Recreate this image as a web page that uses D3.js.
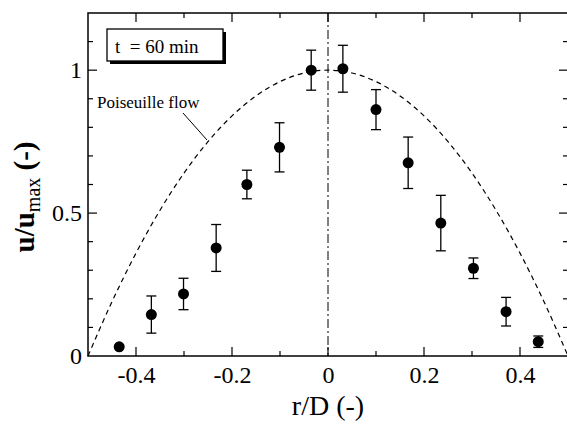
<!DOCTYPE html>
<html>
<head>
<meta charset="utf-8">
<script src="https://cdn.jsdelivr.net/npm/d3@7"></script>
<style>
  body { margin: 0; background: #fff; }
  svg { display: block; }
  svg text { font-family: "Liberation Serif", "Times New Roman", serif !important; fill: #000; }
</style>
</head>
<body>
<svg id="chart" width="567" height="429"></svg>
<script>
// measured points: radial position, normalised velocity, error bar half-height
const rD = [-0.435, -0.368, -0.301, -0.233, -0.169, -0.101, -0.035, 0.031, 0.100, 0.167, 0.235, 0.303, 0.371, 0.438];
const uU = [0.032, 0.145, 0.217, 0.378, 0.600, 0.730, 1.000, 1.005, 0.862, 0.676, 0.465, 0.307, 0.155, 0.050];
const err = [0.008, 0.065, 0.055, 0.082, 0.050, 0.086, 0.070, 0.082, 0.070, 0.090, 0.097, 0.036, 0.050, 0.020];

// poiseuille profile
const poisR = [-0.5, -0.45, -0.4, -0.35, -0.3, -0.25, -0.2, -0.15, -0.1, -0.05, 0, 0.05, 0.1, 0.15, 0.2, 0.25, 0.3, 0.35, 0.4, 0.45, 0.5];
const poisU = [0, 0.19, 0.36, 0.51, 0.64, 0.75, 0.84, 0.91, 0.96, 0.99, 1, 0.99, 0.96, 0.91, 0.84, 0.75, 0.64, 0.51, 0.36, 0.19, 0];

const xTicks = [-0.4, -0.2, 0, 0.2, 0.4];
const yTicks = [0, 0.5, 1];

const svg = d3.select('#chart');
const mLeft = 88, mRight = 568, mTop = 13, mBottom = 356;

const x = d3.scaleLinear().domain([-0.5, 0.5]).range([mLeft, mRight]);
const y = d3.scaleLinear().domain([0, 1.2]).range([mBottom, mTop]);

// ticks inward on all four sides
const major = 9, minor = 5;
const xt = d3.range(-0.4, 0.45, 0.1).map(v => +v.toFixed(1));
const yt = d3.range(0.1, 1.15, 0.1).map(v => +v.toFixed(1));
const isMajorX = v => xTicks.some(t => Math.abs(t - v) < 1e-6);
const isMajorY = v => Math.abs(v - 0.5) < 1e-6 || Math.abs(v - 1) < 1e-6;

svg.append('g').attr('class', 'axis-bottom')
    .attr('transform', 'translate(0,' + mBottom + ')')
    .call(d3.axisBottom(x).tickValues(xTicks).tickSize(0).tickPadding(10)
        .tickFormat(d => d === 0 ? '0' : d3.format('.1f')(d).replace('−', '-')))
    .call(g => g.select('.domain').remove())
    .selectAll('text').attr('font-size', 24);

svg.append('g').attr('class', 'axis-left')
    .attr('transform', 'translate(' + mLeft + ',0)')
    .call(d3.axisLeft(y).tickValues(yTicks).tickSize(0).tickPadding(6)
        .tickFormat(d => d === 0 ? '0' : d === 1 ? '1' : '0.5'))
    .call(g => g.select('.domain').remove())
    .selectAll('text').attr('font-size', 24);

const ticks = svg.append('g').attr('stroke', '#000').attr('stroke-width', 1.2);
xt.forEach(v => {
    const len = isMajorX(v) ? major : minor;
    ticks.append('line').attr('x1', x(v)).attr('x2', x(v)).attr('y1', mBottom).attr('y2', mBottom - len);
    ticks.append('line').attr('x1', x(v)).attr('x2', x(v)).attr('y1', mTop).attr('y2', mTop + len);
});
yt.forEach(v => {
    const len = isMajorY(v) ? major : minor;
    ticks.append('line').attr('x1', mLeft).attr('x2', mLeft + len).attr('y1', y(v)).attr('y2', y(v));
    ticks.append('line').attr('x1', mRight).attr('x2', mRight - len).attr('y1', y(v)).attr('y2', y(v));
});

// frame
svg.append('rect')
    .attr('x', mLeft).attr('y', mTop)
    .attr('width', mRight - mLeft).attr('height', mBottom - mTop)
    .attr('fill', 'none').attr('stroke', '#000').attr('stroke-width', 1.5);

// centre line, dash-dot
svg.append('line')
    .attr('x1', x(0)).attr('x2', x(0)).attr('y1', mTop).attr('y2', mBottom)
    .attr('stroke', '#000').attr('stroke-width', 1)
    .attr('stroke-dasharray', '9,3,2,3');

// poiseuille curve
const line = d3.line()
    .x((d, i) => x(poisR[i]))
    .y(d => y(d))
    .curve(d3.curveMonotoneX);
svg.append('path')
    .datum(poisU)
    .attr('d', line)
    .attr('fill', 'none').attr('stroke', '#000').attr('stroke-width', 1.2)
    .attr('stroke-dasharray', '5,4');

// error bars
const bars = svg.append('g').attr('stroke', '#000').attr('stroke-width', 1.3);
rD.forEach((r, i) => {
    if (err[i] < 0.015) return;
    const hi = y(uU[i] + err[i]), lo = y(uU[i] - err[i]);
    bars.append('line').attr('x1', x(r)).attr('x2', x(r)).attr('y1', hi).attr('y2', lo);
    bars.append('line').attr('x1', x(r) - 5).attr('x2', x(r) + 5).attr('y1', hi).attr('y2', hi);
    bars.append('line').attr('x1', x(r) - 5).attr('x2', x(r) + 5).attr('y1', lo).attr('y2', lo);
});

// points
svg.append('g').selectAll('circle')
    .data(rD)
    .join('circle')
    .attr('cx', d => x(d))
    .attr('cy', (d, i) => y(uU[i]))
    .attr('r', 5.5)
    .attr('fill', '#000');

// label + leader
svg.append('text')
    .attr('x', 97).attr('y', 108)
    .attr('font-size', 17)
    .text('Poiseuille flow');
svg.append('line')
    .attr('x1', 183).attr('y1', 113).attr('x2', 207).attr('y2', 140)
    .attr('stroke', '#000').attr('stroke-width', 1);

// time box with shadow
svg.append('rect')
    .attr('x', 110).attr('y', 32).attr('width', 116).attr('height', 32)
    .attr('fill', '#000');
svg.append('rect')
    .attr('x', 107).attr('y', 29).attr('width', 116).attr('height', 32)
    .attr('fill', '#fff').attr('stroke', '#000').attr('stroke-width', 1.3);
svg.append('text')
    .attr('x', 115).attr('y', 53)
    .attr('font-size', 19)
    .attr('xml:space', 'preserve')
    .text('t  = 60 min');

// axis titles
svg.append('text')
    .attr('x', x(0)).attr('y', 415)
    .attr('text-anchor', 'middle')
    .attr('font-size', 28)
    .text('r/D (-)');

const yTitle = svg.append('text')
    .attr('transform', 'translate(34,197) rotate(-90)')
    .attr('text-anchor', 'middle')
    .attr('font-size', 29)
    .attr('font-weight', 'bold');
yTitle.append('tspan').text('u/u');
yTitle.append('tspan').attr('font-size', 20).attr('font-weight', 'normal').attr('dy', 6).text('max');
yTitle.append('tspan').attr('dy', -6).text(' (-)');
</script>
</body>
</html>
